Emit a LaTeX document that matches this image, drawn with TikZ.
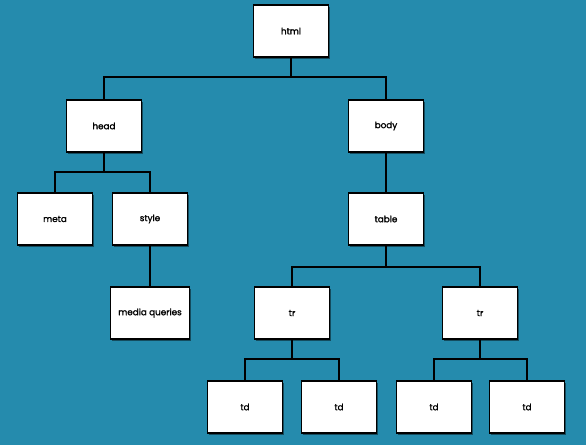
\documentclass[tikz,border=0pt]{standalone}
\usepackage{fontspec}
\setmainfont{Poppins}[FakeBold=1.5]
\usetikzlibrary{shadows}
\definecolor{bgteal}{RGB}{37,139,173}
\begin{document}
\begin{tikzpicture}[x=1pt,y=-1pt,
  tnode/.style={draw=black, line width=1.6pt, fill=white, minimum width=75pt, minimum height=52pt,
    inner sep=0pt, font=\fontsize{8.8}{10}\selectfont,
    drop shadow={shadow xshift=1pt, shadow yshift=-1.5pt, opacity=0.45, fill=black}},
  link/.style={draw=black, line width=1.5pt}]
\fill[bgteal] (0,0) rectangle (586,445);
\useasboundingbox (0,0) rectangle (586,445);
\node[tnode] (html) at (291,31) {html};
\node[tnode] (head) at (104,126) {head};
\node[tnode] (body) at (386,126) {body};
\node[tnode] (meta) at (55,219) {meta};
\node[tnode] (style) at (150,219) {style};
\node[tnode] (table) at (386,219) {table};
\node[tnode, minimum width=79pt] (media) at (150,313) {media queries};
\node[tnode] (trl) at (292,313) {tr};
\node[tnode] (trr) at (480,313) {tr};
\node[tnode] (td1) at (245,407) {td};
\node[tnode] (td2) at (339,407) {td};
\node[tnode] (td3) at (434,407) {td};
\node[tnode] (td4) at (527,407) {td};
\coordinate (b1) at (291,77);
\coordinate (b2) at (104,172);
\coordinate (b3) at (386,267);
\coordinate (b4) at (292,359);
\coordinate (b5) at (480,359);
\draw[link] (html.south) -- (b1);
\draw[link] (head.north) |- (b1) -| (body.north);
\draw[link] (head.south) -- (b2);
\draw[link] (meta.north) |- (b2) -| (style.north);
\draw[link] (style.south) -- (media.north);
\draw[link] (body.south) -- (table.north);
\draw[link] (table.south) -- (b3);
\draw[link] (trl.north) |- (b3) -| (trr.north);
\draw[link] (trl.south) -- (b4);
\draw[link] (td1.north) |- (b4) -| (td2.north);
\draw[link] (trr.south) -- (b5);
\draw[link] (td3.north) |- (b5) -| (td4.north);
\end{tikzpicture}
\end{document}
